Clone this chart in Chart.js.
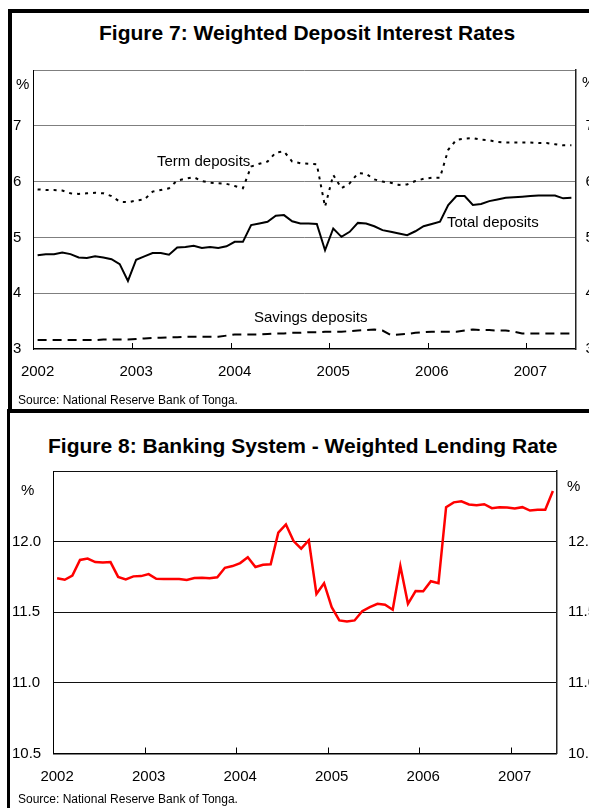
<!DOCTYPE html>
<html>
<head>
<meta charset="utf-8">
<script src="https://cdn.jsdelivr.net/npm/chart.js@4.4.0/dist/chart.umd.min.js"></script>
<style>
html, body { margin: 0; padding: 0; background: #fff; overflow: hidden; width: 589px; height: 808px; }
body { position: relative; font-family: "Liberation Sans", Arial, sans-serif; color: #000; }
.box { position: absolute; border: 4px solid #000; box-sizing: border-box; }
.txt { position: absolute; white-space: nowrap; line-height: 1; }
canvas { position: absolute; left: 0; }
</style>
</head>
<body>
<div class="box" style="left:8px;top:9px;width:700px;height:404px;"></div>
<div class="box" style="left:7px;top:409px;width:700px;height:500px;border-left-width:3px;"></div>

<div class="txt" style="left:99px;top:22px;font-size:21px;font-weight:bold;">Figure 7: Weighted Deposit Interest Rates</div>
<div class="txt" style="left:48px;top:435px;font-size:21px;font-weight:bold;">Figure 8: Banking System - Weighted Lending Rate</div>

<canvas id="fig7" width="640" height="400" style="top:0"></canvas>
<canvas id="fig8" width="640" height="408" style="top:400px"></canvas>

<div class="txt" style="left:16px;top:76px;font-size:15px;">%</div>
<div class="txt" style="left:582px;top:74px;font-size:15px;">%</div>
<div class="txt" style="left:157px;top:153px;font-size:15px;">Term deposits</div>
<div class="txt" style="left:447px;top:214px;font-size:15px;">Total deposits</div>
<div class="txt" style="left:254px;top:309px;font-size:15px;">Savings deposits</div>
<div class="txt" style="left:18px;top:394px;font-size:12px;">Source: National Reserve Bank of Tonga.</div>

<div class="txt" style="left:21px;top:482px;font-size:15px;">%</div>
<div class="txt" style="left:567px;top:478px;font-size:15px;">%</div>
<div class="txt" style="left:18px;top:793px;font-size:12px;">Source: National Reserve Bank of Tonga.</div>

<script>
// monthly, Jan 2002 - Jun 2007
const monthNames = ['Jan','Feb','Mar','Apr','May','Jun','Jul','Aug','Sep','Oct','Nov','Dec'];
const yearLabels = ['2002','2003','2004','2005','2006','2007'];

const termDeposits = [
  5.86, 5.85, 5.85, 5.84, 5.79, 5.78, 5.79, 5.80, 5.79, 5.74, 5.64, 5.63,
  5.66, 5.68, 5.82, 5.85, 5.88, 6.02, 6.05, 6.08, 6.01, 5.98, 5.97, 5.96,
  5.92, 5.88, 6.27, 6.32, 6.36, 6.52, 6.54, 6.36, 6.33, 6.32, 6.31, 5.55,
  6.12, 5.88, 5.97, 6.15, 6.14, 6.04, 6.00, 5.98, 5.94, 5.95, 6.01, 6.05,
  6.07, 6.07, 6.57, 6.75, 6.77, 6.78, 6.75, 6.74, 6.71, 6.70, 6.70, 6.70,
  6.70, 6.69, 6.69, 6.67, 6.65, 6.65
];
const totalDeposits = [
  4.68, 4.70, 4.70, 4.73, 4.70, 4.64, 4.63, 4.66, 4.64, 4.61, 4.52, 4.22,
  4.60, 4.66, 4.72, 4.72, 4.69, 4.82, 4.83, 4.85, 4.81, 4.83, 4.81, 4.84,
  4.92, 4.92, 5.22, 5.25, 5.28, 5.39, 5.40, 5.29, 5.25, 5.25, 5.24, 4.77,
  5.16, 5.01, 5.10, 5.26, 5.25, 5.20, 5.13, 5.10, 5.07, 5.04, 5.11, 5.20,
  5.24, 5.28, 5.58, 5.74, 5.74, 5.58, 5.60, 5.65, 5.68, 5.71, 5.72, 5.73,
  5.74, 5.75, 5.75, 5.75, 5.70, 5.71
];
const savingsDeposits = [
  3.16, 3.16, 3.16, 3.16, 3.16, 3.16, 3.16, 3.16, 3.17, 3.17, 3.17, 3.17,
  3.18, 3.19, 3.20, 3.20, 3.21, 3.21, 3.22, 3.22, 3.22, 3.22, 3.22, 3.24,
  3.26, 3.26, 3.26, 3.26, 3.27, 3.28, 3.28, 3.29, 3.29, 3.30, 3.30, 3.31,
  3.31, 3.31, 3.32, 3.33, 3.34, 3.35, 3.33, 3.25, 3.26, 3.27, 3.29, 3.30,
  3.31, 3.31, 3.31, 3.31, 3.33, 3.35, 3.34, 3.34, 3.33, 3.33, 3.31, 3.28,
  3.28, 3.28, 3.28, 3.28, 3.28, 3.28
];
const lendingRate = [
  11.74, 11.73, 11.76, 11.87, 11.88, 11.855, 11.853, 11.855, 11.75, 11.733, 11.754, 11.756,
  11.77, 11.737, 11.735, 11.735, 11.735, 11.728, 11.742, 11.745, 11.74, 11.747, 11.815, 11.827,
  11.848, 11.89, 11.82, 11.836, 11.84, 12.063, 12.122, 12.004, 11.95, 12.01, 11.63, 11.706,
  11.536, 11.442, 11.435, 11.442, 11.508, 11.536, 11.56, 11.553, 11.518, 11.827, 11.56, 11.65,
  11.648, 11.72, 11.706, 12.244, 12.278, 12.285, 12.263, 12.258, 12.265, 12.237, 12.244, 12.242,
  12.235, 12.244, 12.22, 12.225, 12.225, 12.358
];

const categories = [];
yearLabels.forEach(y => monthNames.forEach(m => categories.push(m + ' ' + y)));
categories.length = termDeposits.length;

Chart.defaults.font.family = '"Liberation Sans", Arial, sans-serif';
Chart.defaults.color = '#000';

// short tick marks pointing up into the plot at each January
const yearTicks = {
  id: 'yearTicks',
  afterDraw(chart) {
    const x = chart.scales.x, a = chart.chartArea, c = chart.ctx;
    c.save();
    c.strokeStyle = '#000';
    c.lineWidth = 1;
    for (let i = 12; i < categories.length; i += 12) {
      const px = Math.round((x.getPixelForValue(i - 1) + x.getPixelForValue(i)) / 2) + 0.5;
      c.beginPath();
      c.moveTo(px, a.bottom);
      c.lineTo(px, a.bottom - 6);
      c.stroke();
    }
    c.restore();
  }
};

function xAxis() {
  return {
    type: 'category',
    offset: true,
    grid: { drawOnChartArea: false, drawTicks: false, offset: true },
    border: { color: '#000', width: 1.5 },
    ticks: {
      autoSkip: false, minRotation: 0, maxRotation: 0, padding: 14,
      font: { size: 15 },
      callback: (v, i) => i % 12 === 0 ? yearLabels[i / 12] : ''
    },
    afterFit: s => { s.height = 40; }
  };
}

function yAxes(min, max, step, gridColor, leftWidth, rightPad, fmt) {
  const hideTop = v => v === max ? '' : fmt(v);
  return {
    y: {
      min, max,
      grid: {
        drawTicks: false, lineWidth: 1,
        color: ctx => ctx.tick && ctx.tick.value === min ? 'rgba(0,0,0,0)' : gridColor
      },
      border: { color: '#000', width: 1 },
      ticks: { stepSize: step, crossAlign: 'far', padding: 0, font: { size: 15 }, callback: hideTop },
      afterFit: s => { s.width = leftWidth; }
    },
    y2: {
      position: 'right', min, max,
      grid: { drawOnChartArea: false, drawTicks: false },
      border: { color: '#222', width: 1.5 },
      ticks: { stepSize: step, crossAlign: 'near', padding: rightPad, font: { size: 15 }, callback: hideTop },
      afterFit: s => { s.width = 50; }
    }
  };
}

new Chart(document.getElementById('fig7'), {
  type: 'line',
  data: {
    labels: categories,
    datasets: [
      { label: 'Total deposits', data: totalDeposits, borderColor: '#000', borderWidth: 2 },
      { label: 'Term deposits', data: termDeposits, borderColor: '#000', borderWidth: 2, borderDash: [3, 5] },
      { label: 'Savings deposits', data: savingsDeposits, borderColor: '#000', borderWidth: 2, borderDash: [9, 6] }
    ]
  },
  options: {
    responsive: false,
    devicePixelRatio: 1,
    animation: false,
    layout: { padding: { left: 13, top: 70, right: 14.5, bottom: 11 } },
    elements: { point: { radius: 0 }, line: { tension: 0 } },
    plugins: { legend: { display: false }, tooltip: { enabled: false } },
    scales: Object.assign({ x: xAxis() }, yAxes(3, 8, 1, '#7f7f7f', 20.5, 10, v => String(v)))
  },
  plugins: [yearTicks]
});

new Chart(document.getElementById('fig8'), {
  type: 'line',
  data: {
    labels: categories,
    datasets: [
      { label: 'Weighted lending rate', data: lendingRate, borderColor: '#ff0000', borderWidth: 2.5 }
    ]
  },
  options: {
    responsive: false,
    devicePixelRatio: 1,
    animation: false,
    layout: { padding: { left: 12, top: 71, right: 33.3, bottom: 14.5 } },
    elements: { point: { radius: 0 }, line: { tension: 0 } },
    plugins: { legend: { display: false }, tooltip: { enabled: false } },
    scales: Object.assign({ x: xAxis() }, yAxes(10.5, 12.5, 0.5, '#111', 41.3, 11.3, v => v.toFixed(1)))
  },
  plugins: [yearTicks]
});
</script>
</body>
</html>
